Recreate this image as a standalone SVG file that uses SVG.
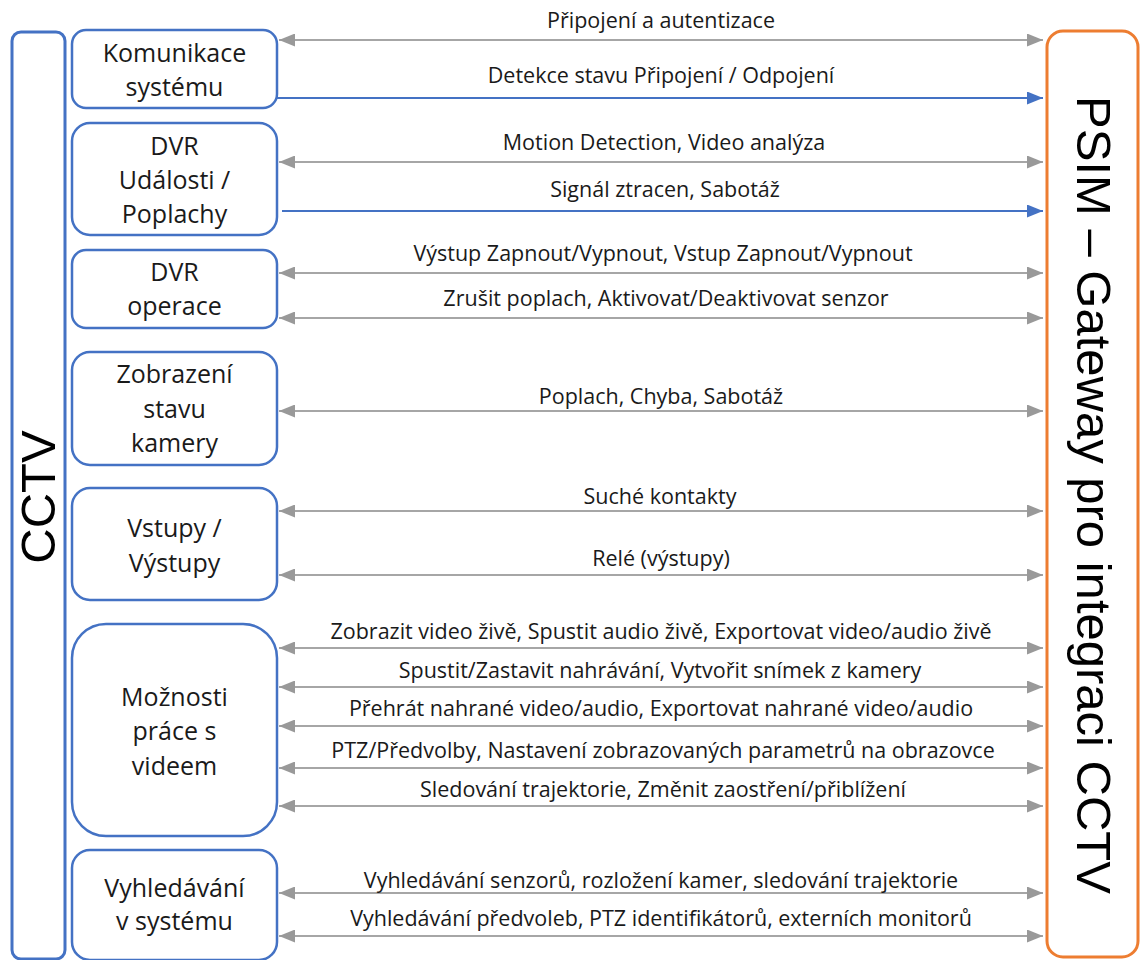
<svg xmlns="http://www.w3.org/2000/svg" width="1140" height="960" viewBox="0 0 1140 960">
<style>
.bg{fill:#ffffff}
.node{fill:#ffffff;stroke:#4472c4;stroke-width:2.5}
.outer{fill:#ffffff;stroke:#4472c4;stroke-width:3}
.psim{fill:#ffffff;stroke:#ed7d31;stroke-width:3}
.nt{font-family:"Open Sans","Liberation Sans",sans-serif;font-size:25px;fill:#1a1a1a;text-anchor:middle}
.lt{font-family:"Open Sans","Liberation Sans",sans-serif;font-size:21.5px;fill:#1a1a1a;text-anchor:middle}
.big{font-family:"Liberation Sans",Arial,sans-serif;font-size:49px;fill:#000000;text-anchor:middle}
.g{stroke:#a6a6a6;stroke-width:2;fill:none;marker-start:url(#ag);marker-end:url(#ag)}
.b{stroke:#4472c4;stroke-width:2;fill:none;marker-end:url(#ab)}
</style>
<defs>
<marker id="ag" markerUnits="userSpaceOnUse" markerWidth="16" markerHeight="13" refX="16" refY="6.5" orient="auto-start-reverse" viewBox="0 0 16 13">
<path d="M0,0 L16,6.5 L0,13 z" fill="#999999"/>
</marker>
<marker id="ab" markerUnits="userSpaceOnUse" markerWidth="16" markerHeight="13" refX="16" refY="6.5" orient="auto" viewBox="0 0 16 13">
<path d="M0,0 L16,6.5 L0,13 z" fill="#4472c4"/>
</marker>
</defs>
<rect class="bg" x="0" y="0" width="1140" height="960"/>

<g id="cctv">
<rect class="outer" x="12" y="32" width="53" height="927" rx="9"/>
<text class="big" transform="translate(55,497) rotate(-90)">CCTV</text>
</g>

<g id="psim">
<rect class="psim" x="1047" y="31" width="91" height="926" rx="16"/>
<text class="big" transform="translate(1077,495) rotate(90)">PSIM – Gateway pro integraci CCTV</text>
</g>

<g id="komunikace">
<rect class="node" x="72" y="30" width="205" height="78" rx="14"/>
<text class="nt" x="174.5" y="62">Komunikace</text>
<text class="nt" x="174.5" y="96">systému</text>
</g>

<g id="dvr-udalosti">
<rect class="node" x="72" y="123" width="205" height="112" rx="18"/>
<text class="nt" x="174.5" y="155">DVR</text>
<text class="nt" x="174.5" y="189">Události /</text>
<text class="nt" x="174.5" y="223">Poplachy</text>
</g>

<g id="dvr-operace">
<rect class="node" x="72" y="250" width="205" height="78" rx="14"/>
<text class="nt" x="174.5" y="281">DVR</text>
<text class="nt" x="174.5" y="315">operace</text>
</g>

<g id="zobrazeni">
<rect class="node" x="72" y="352" width="205" height="113" rx="18"/>
<text class="nt" x="174.5" y="383">Zobrazení</text>
<text class="nt" x="174.5" y="418">stavu</text>
<text class="nt" x="174.5" y="452">kamery</text>
</g>

<g id="vstupy">
<rect class="node" x="72" y="488" width="205" height="112" rx="18"/>
<text class="nt" x="174.5" y="537">Vstupy /</text>
<text class="nt" x="174.5" y="572">Výstupy</text>
</g>

<g id="moznosti">
<rect class="node" x="72" y="624" width="205" height="212" rx="34"/>
<text class="nt" x="174.5" y="706">Možnosti</text>
<text class="nt" x="174.5" y="740">práce s</text>
<text class="nt" x="174.5" y="775">videem</text>
</g>

<g id="vyhledavani">
<rect class="node" x="72" y="850" width="205" height="110" rx="18"/>
<text class="nt" x="174.5" y="897">Vyhledávání</text>
<text class="nt" x="174.5" y="930">v systému</text>
</g>

<g id="connectors">
<line class="g" x1="279" y1="40" x2="1043" y2="40"/>
<line class="b" x1="277" y1="98" x2="1043" y2="98"/>
<line class="g" x1="279" y1="162" x2="1043" y2="162"/>
<line class="b" x1="282" y1="211" x2="1043" y2="211"/>
<line class="g" x1="279" y1="273" x2="1043" y2="273"/>
<line class="g" x1="279" y1="318" x2="1043" y2="318"/>
<line class="g" x1="279" y1="411" x2="1043" y2="411"/>
<line class="g" x1="279" y1="511" x2="1043" y2="511"/>
<line class="g" x1="279" y1="575" x2="1043" y2="575"/>
<line class="g" x1="279" y1="648" x2="1043" y2="648"/>
<line class="g" x1="279" y1="687" x2="1043" y2="687"/>
<line class="g" x1="279" y1="726" x2="1043" y2="726"/>
<line class="g" x1="279" y1="768" x2="1043" y2="768"/>
<line class="g" x1="279" y1="806" x2="1043" y2="806"/>
<line class="g" x1="279" y1="893" x2="1043" y2="893"/>
<line class="g" x1="279" y1="936" x2="1043" y2="936"/>
<text class="lt" x="661" y="28">Připojení a autentizace</text>
<text class="lt" x="661" y="83">Detekce stavu Připojení / Odpojení</text>
<text class="lt" x="664" y="150">Motion Detection, Video analýza</text>
<text class="lt" x="665" y="197">Signál ztracen, Sabotáž</text>
<text class="lt" x="663" y="261">Výstup Zapnout/Vypnout, Vstup Zapnout/Vypnout</text>
<text class="lt" x="666" y="306">Zrušit poplach, Aktivovat/Deaktivovat senzor</text>
<text class="lt" x="661" y="404">Poplach, Chyba, Sabotáž</text>
<text class="lt" x="660" y="504">Suché kontakty</text>
<text class="lt" x="661" y="566">Relé (výstupy)</text>
<text class="lt" x="661" y="639">Zobrazit video živě, Spustit audio živě, Exportovat video/audio živě</text>
<text class="lt" x="660" y="678">Spustit/Zastavit nahrávání, Vytvořit snímek z kamery</text>
<text class="lt" x="661" y="716">Přehrát nahrané video/audio, Exportovat nahrané video/audio</text>
<text class="lt" x="663" y="758">PTZ/Předvolby, Nastavení zobrazovaných parametrů na obrazovce</text>
<text class="lt" x="663" y="797">Sledování trajektorie, Změnit zaostření/přiblížení</text>
<text class="lt" x="661" y="888">Vyhledávání senzorů, rozložení kamer, sledování trajektorie</text>
<text class="lt" x="661" y="926">Vyhledávání předvoleb, PTZ identifikátorů, externích monitorů</text>
</g>
</svg>
